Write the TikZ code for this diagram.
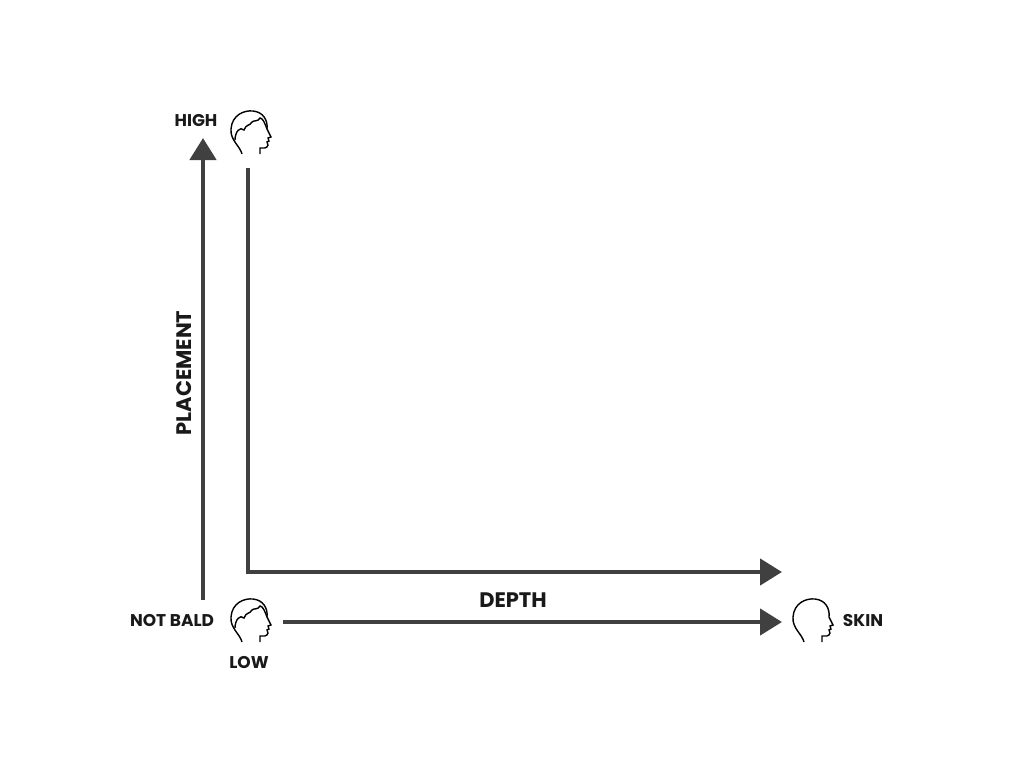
\documentclass[tikz,border=0pt]{standalone}
\usepackage{fontspec}
\setmainfont{Poppins}
\usetikzlibrary{arrows.meta,positioning}
\tikzset{
  axis/.style={line width=4.5pt, black!75, -{Triangle[length=22pt,width=26pt]}},
  lbl/.style={font=\bfseries\fontsize{17}{20}\selectfont, text=black!90},
  big/.style={font=\bfseries\fontsize{21}{24}\selectfont, text=black!90},
  head/.style={line width=1.4pt, black}
}
\newcommand{\headoutline}{%
  (-8,22) .. controls (-10,14) and (-20,8) .. (-19,-3)
  .. controls (-18,-17) and (-6,-22) .. (3,-21)
  .. controls (13,-20) and (18,-12) .. (17,-3)
  -- (21,5) -- (18,6) -- (19,9) -- (17,10) -- (18,13)
  .. controls (17,17) and (13,16) .. (10,16) -- (10,22)}
\newcommand{\hairline}{%
  (-15,8) .. controls (-15,0) and (-10,-6) .. (-6,-2)
  .. controls (-4,-8) and (0,-6) .. (2,-10)
  .. controls (4,-12) and (8,-10) .. (10,-14)
  .. controls (13,-14) and (15,-8) .. (17,-3)}
\begin{document}
\begin{tikzpicture}[x=1pt,y=-1pt]
  \path[use as bounding box] (0,0) rectangle (1024,768);

  % ---- heads ----
  \begin{scope}[shift={(250,132)}]
    \draw[head] \headoutline;
    \draw[head] \hairline;
  \end{scope}
  \begin{scope}[shift={(250,620)}]
    \draw[head] \headoutline;
    \draw[head] \hairline;
  \end{scope}
  \begin{scope}[shift={(812,620)}]
    \draw[head] \headoutline;
  \end{scope}

  % ---- axes ----
  \coordinate (pbot) at (203,600);
  \coordinate (ptop) at (203,138);
  \coordinate (ltop) at (248,168);
  \coordinate (corner) at (248,572);
  \coordinate (lend) at (782,572);
  \coordinate (dstart) at (283,622);
  \coordinate (dend) at (782,622);
  \draw[axis] (pbot) -- (ptop);
  \draw[axis] (ltop) -- (corner) -- (lend);
  \draw[axis] (dstart) -- (dend);

  % ---- labels ----
  \node[lbl] (high) at (196,121) {HIGH};
  \node[lbl] (notbald) at (172,620) {NOT BALD};
  \node[lbl] (low) at (249,662) {LOW};
  \node[lbl] (skin) at (863,620) {SKIN};
  \node[big] (depth) at (513,600) {DEPTH};
  \node[big, rotate=90] (placement) at (184,373) {PLACEMENT};
\end{tikzpicture}
\end{document}
